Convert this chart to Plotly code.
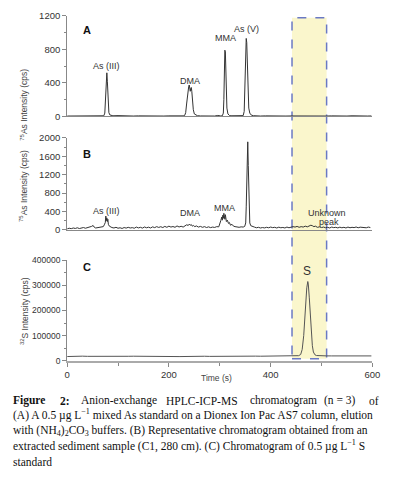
import plotly.graph_objects as go

# ---------------- data ----------------
time_a = [0, 10, 20, 30, 40, 50, 60, 68, 72, 74, 75, 76, 77, 78, 79, 80, 81, 82, 84, 86, 90,
          100, 110, 120, 130, 140, 150, 160, 170, 180, 190, 200, 210, 220, 228, 231, 233, 235,
          237, 239, 240, 241, 242, 243, 244, 245, 246, 248, 250, 253, 256, 262, 270, 280, 290,
          296, 298, 302, 305, 307, 308, 309, 310, 311, 312, 313, 314, 316, 319, 322, 330, 340,
          346, 348, 349, 350, 351, 352, 353, 354, 355, 356, 357, 359, 362, 366, 372, 380, 390,
          400, 410, 420, 430, 440, 450, 460, 470, 480, 490, 500, 510, 520, 530, 540, 550, 560,
          570, 580, 590, 598]
as_std = [5, 6, 4, 7, 5, 6, 5, 6, 8, 40, 200, 370, 385, 520, 420, 260, 110, 45, 18, 12, 8,
          10, 6, 9, 5, 7, 5, 6, 4, 6, 5, 7, 5, 6, 7, 12, 45, 160,
          300, 360, 375, 330, 300, 335, 345, 300, 200, 80, 30, 14, 9, 6, 5, 6, 5,
          12, 8, 6, 8, 40, 200, 600, 790, 770, 500, 240, 100, 30, 12, 8, 6, 7,
          10, 60, 250, 600, 850, 930, 880, 650, 400, 200, 100, 40, 16, 9, 6, 5, 7,
          5, 8, 6, 5, 6, 5, 7, 5, 6, 5, 6, 5, 7, 5, 6, 5, 8,
          5, 6, 5, 6]

time_b = [0, 4, 8, 12, 16, 20, 24, 28, 32, 36, 40, 44, 48, 51, 53, 56, 60, 64, 68, 71, 73, 75,
          76, 77, 78, 79, 80, 81, 83, 85, 88, 92, 96, 100, 104, 108, 112, 116, 120, 124, 128,
          132, 136, 140, 144, 148, 152, 156, 160, 164, 168, 172, 176, 180, 184, 188, 192, 196,
          200, 204, 208, 212, 216, 220, 224, 228, 232, 235, 238, 240, 242, 244, 246, 248, 251,
          254, 258, 262, 266, 270, 274, 278, 282, 286, 290, 294, 298, 300, 302, 304, 305, 306,
          307, 308, 309, 310, 311, 312, 313, 315, 317, 319, 321, 324, 327, 330, 334, 338, 342,
          346, 349, 351, 352, 353, 354, 355, 356, 357, 358, 359, 361, 364, 368, 372, 376, 380,
          384, 388, 392, 396, 400, 404, 408, 412, 416, 420, 424, 428, 432, 436, 440, 444, 448,
          452, 456, 460, 464, 468, 472, 476, 479, 482, 485, 488, 492, 496, 500, 504, 508, 512,
          516, 520, 524, 528, 532, 536, 540, 544, 548, 552, 556, 560, 564, 568, 572, 576, 580,
          584, 588, 592, 596]
as_sed = [20, 35, 25, 40, 30, 45, 28, 38, 50, 35, 45, 60, 75, 95, 60, 40, 50, 45, 55, 70, 110, 160,
          300, 200, 260, 180, 230, 120, 80, 60, 50, 40, 55, 35, 45, 30, 50, 38, 55, 40, 48,
          35, 60, 42, 55, 38, 62, 45, 58, 40, 65, 48, 70, 52, 68, 50, 75, 55,
          80, 60, 72, 55, 85, 62, 78, 60, 85, 110, 95, 125, 100, 115, 80, 95, 70,
          85, 60, 75, 55, 70, 50, 65, 48, 60, 52, 70, 65, 120, 200, 280, 210, 320,
          250, 360, 290, 230, 330, 270, 180, 210, 140, 160, 100, 120, 80, 70, 60, 55, 65,
          60, 75, 150, 500, 1100, 1600, 1915, 1400, 800, 350, 150, 90, 70, 60, 45, 55, 40,
          50, 42, 55, 45, 60, 48, 55, 40, 58, 45, 52, 40, 60, 45, 55, 70, 60,
          75, 55, 70, 60, 80, 65, 85, 100, 90, 70, 80, 55, 65, 50, 60, 45, 55,
          40, 60, 48, 55, 42, 58, 45, 55, 40, 60, 45, 55, 48, 62, 45, 58, 50,
          55, 45, 60, 50]

time_c = [0, 10, 20, 30, 40, 50, 60, 70, 80, 90, 100, 110, 120, 130, 140, 150, 160, 170, 180,
          190, 200, 210, 220, 230, 240, 250, 260, 270, 280, 290, 300, 310, 320, 330, 340, 350,
          360, 370, 380, 390, 400, 410, 420, 430, 440, 450, 455, 459, 462, 465, 467, 469, 471,
          473, 474, 476, 478, 480, 482, 484, 487, 490, 495, 500, 510, 520, 530, 540, 550, 560,
          570, 580, 590, 598]
s_std = [17000, 18000, 17500, 18500, 17800, 18200, 17600, 18400, 17900, 18300, 17700, 18500,
         18000, 18300, 17800, 18100, 17900, 18400, 18000, 18200, 17600, 17000, 16800, 17500,
         18000, 17400, 17800, 18200, 17600, 18000, 18300, 17900, 18200, 18500, 18000, 18400,
         18200, 18600, 18300, 18700, 18500, 18800, 18600, 19000, 19200, 19500, 20500, 25000,
         45000, 100000, 170000, 240000, 290000, 315000, 305000, 250000, 180000, 110000, 60000,
         35000, 24000, 21000, 20000, 19800, 19600, 19500, 19400, 19600, 19300, 19500, 19400,
         19600, 19300, 19500]

a_ticks = [0, 400, 800, 1200]
b_ticks = [0, 400, 800, 1200, 1600, 2000]
c_ticks = [0, 100000, 200000, 300000, 400000]
x_ticks = [0, 200, 400, 600]

a_labels = [("As (III)", 78, 605), ("DMA", 241, 420), ("MMA", 311, 932), ("As (V)", 352, 1048)]
b_labels = [("As (III)", 78, 404), ("DMA", 241, 362), ("MMA", 310, 468), ("As (V)", 357, 2128),
            ("Unknown", 511, 372), ("peak", 515, 160)]
c_labels = [("S", 472, 357000)]

window = (442, 510)

caption_line1 = [("<b>Figure</b>", 8, "left"), ("<b>2:</b>", 57, "left"),
                 ("Anion-exchange", 78, "left"), ("HPLC-ICP-MS", 166, "left"),
                 ("chromatogram", 252, "left"), ("(n = 3)", 328, "left"), ("of", 389, "right")]
caption_rest = [
    "(A) A 0.5 µg L<sup>−1</sup> mixed As standard on a Dionex Ion Pac AS7 column, elution",
    "with (NH<sub>4</sub>)<sub>2</sub>CO<sub>3</sub> buffers. (B) Representative chromatogram obtained from an",
    "extracted sediment sample (C1, 280 cm). (C) Chromatogram of 0.5 µg L<sup>−1</sup> S",
    "standard",
]

# ---------------- figure ----------------
W, H = 394, 488
def py(p):
    return 1 - p / H

fig = go.Figure()
line_style = dict(color="#333333", width=1)
fig.add_trace(go.Scatter(x=time_a, y=as_std, mode="lines", line=line_style, xaxis="x", yaxis="y",
                         showlegend=False, hoverinfo="skip"))
fig.add_trace(go.Scatter(x=time_b, y=as_sed, mode="lines", line=line_style, xaxis="x2", yaxis="y2",
                         showlegend=False, hoverinfo="skip"))
fig.add_trace(go.Scatter(x=time_c, y=s_std, mode="lines", line=dict(color="#555555", width=1),
                         xaxis="x3", yaxis="y3", showlegend=False, hoverinfo="skip"))

xdom = [66 / W, 380 / W]
SANS = "Liberation Sans, Arial, sans-serif"

def yax(dom, rng, ticks, minor, fsize):
    return dict(domain=dom, range=rng, tickvals=ticks, ticktext=[str(t) for t in ticks],
                showline=True, linecolor="#888888",
                linewidth=1, ticks="outside", ticklen=4, tickcolor="#888888", showgrid=False,
                zeroline=False, tickfont=dict(family=SANS, size=fsize, color="#333333"),
                fixedrange=True,
                minor=dict(dtick=minor, tick0=0, ticks="outside", ticklen=2, tickcolor="#888888",
                           showgrid=False))

fig.update_layout(
    width=W, height=H, margin=dict(l=0, r=0, t=0, b=0),
    paper_bgcolor="white", plot_bgcolor="rgba(0,0,0,0)",
    xaxis=dict(domain=xdom, range=[0, 600], anchor="y", showline=True, linecolor="#888888",
               showticklabels=False, ticks="", showgrid=False, zeroline=False),
    xaxis2=dict(domain=xdom, range=[0, 600], anchor="y2", showline=True, linecolor="#888888",
                showticklabels=False, ticks="", showgrid=False, zeroline=False),
    xaxis3=dict(domain=xdom, range=[0, 600], anchor="y3", showline=True, linecolor="#aaaaaa",
                linewidth=2, tickvals=x_ticks, ticktext=[str(t) for t in x_ticks],
                ticks="outside", ticklen=4, tickcolor="#888888",
                tickfont=dict(family=SANS, size=9.5, color="#333333"),
                showgrid=False, zeroline=False,
                minor=dict(dtick=100, tick0=0, ticks="outside", ticklen=3, tickcolor="#888888",
                           showgrid=False)),
    yaxis=yax([py(113), py(10)], [0, 1200], a_ticks, 200, 9.5),
    yaxis2=yax([py(229), py(135)], [0, 2000], b_ticks, 200, 9.5),
    yaxis3=yax([py(363), py(260)], [0, 400000], c_ticks, 50000, 8.5),
)
fig.update_layout(yaxis=dict(anchor="x"), yaxis2=dict(anchor="x2"), yaxis3=dict(anchor="x3"))

fig.add_shape(type="rect", xref="x3", yref="paper", x0=window[0], x1=window[1],
              y0=py(361), y1=py(12), fillcolor="#faf6cc", layer="below",
              line=dict(color="#6a79c4", width=1.5, dash="dash"))

ann = []
lab_font = dict(family=SANS, size=9, color="#333333")
for txt, x, y in a_labels:
    ann.append(dict(text=txt, x=x, y=y, xref="x", yref="y", showarrow=False, font=lab_font))
for txt, x, y in b_labels:
    ann.append(dict(text=txt, x=x, y=y, xref="x2", yref="y2", showarrow=False, font=lab_font,
                    borderpad=0))
for txt, x, y in c_labels:
    ann.append(dict(text=txt, x=x, y=y, xref="x3", yref="y3", showarrow=False,
                    font=dict(family=SANS, size=12, color="#333333")))

letter_font = dict(family=SANS, size=11, color="#111111")
for txt, yp in [("<b>A</b>", 16), ("<b>B</b>", 143), ("<b>C</b>", 267)]:
    ann.append(dict(text=txt, x=80 / W, y=py(yp), xref="paper", yref="paper", showarrow=False,
                    font=letter_font))

title_font = dict(family=SANS, size=8.5, color="#444444")
for txt, xp, yp in [("<sup>75</sup>As Intensity (cps)", 14, 62),
                    ("<sup>75</sup>As Intensity (cps)", 14, 184),
                    ("<sup>32</sup>S Intensity (cps)", 15, 312)]:
    ann.append(dict(text=txt, x=xp / W, y=py(yp), xref="paper", yref="paper", showarrow=False,
                    textangle=-90, font=title_font))
ann.append(dict(text="Time (s)", x=220 / W, y=py(388), xref="paper", yref="paper",
                showarrow=False, font=title_font))

cap_font = dict(family="Liberation Serif, Times New Roman, serif", size=11.5, color="#111111")
for txt, xp, anc in caption_line1:
    ann.append(dict(text=txt, x=xp / W, y=py(412), xref="paper", yref="paper", showarrow=False,
                    xanchor=anc, font=cap_font))
for i, txt in enumerate(caption_rest):
    ann.append(dict(text=txt, x=8 / W, y=py(428 + i * 15.5), xref="paper", yref="paper",
                    showarrow=False, xanchor="left", font=cap_font))

fig.update_layout(annotations=ann)
fig.write_html("out.html", config={"displayModeBar": False, "staticPlot": True},
               post_script="document.body.style.margin='0';document.body.style.overflow='hidden';")
